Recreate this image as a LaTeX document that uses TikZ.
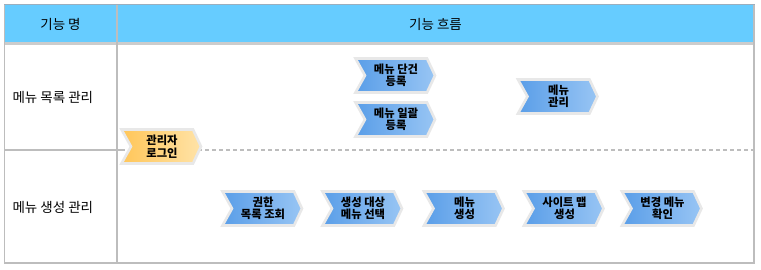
\documentclass[tikz,border=0pt]{standalone}
\usepackage{fontspec}
\setmainfont{Noto Sans CJK KR}
\begin{document}
\begin{tikzpicture}[x=1pt,y=-1pt,
  hdr/.style={font=\fontsize{13.5}{15}\selectfont, text=black},
  rowlbl/.style={font=\fontsize{13.5}{15}\selectfont, text=black, anchor=west},
  lbl/.style={font=\bfseries\fontsize{11.3}{12.5}\selectfont, align=center, text=black, inner sep=0pt},
  bluechev/.style={draw=chevborder, line width=2.6pt, line join=miter, left color=chevbl, right color=chevbr},
  yellowchev/.style={draw=chevborder, line width=2.6pt, line join=miter, left color=chevyl, right color=chevyr},
  frame/.style={draw=tblgray, line width=1.2pt},
]
\definecolor{hdrfill}{HTML}{66CCFF}
\definecolor{tblgray}{HTML}{BDBDBD}
\definecolor{topline}{HTML}{9AAEBE}
\definecolor{hdrline}{HTML}{CCCCCC}
\definecolor{chevborder}{HTML}{E8E8E8}
\definecolor{chevbl}{HTML}{5A9EE8}
\definecolor{chevbr}{HTML}{98C5F4}
\definecolor{chevyl}{HTML}{FFC659}
\definecolor{chevyr}{HTML}{FFE3A8}
\useasboundingbox (0,0) rectangle (761,269);
\fill[white] (0,0) rectangle (761,269);
% header
\fill[hdrfill] (4.5,4.5) rectangle (754,43);
\draw[topline, line width=1.5pt] (4,4.5) -- (754.5,4.5);
\draw[hdrline, line width=3pt] (4,43) -- (754.5,43);
% frame
\draw[frame] (4.5,4.5) -- (4.5,263) -- (754,263) -- (754,4.5);
\draw[frame] (117,4.5) -- (117,263);
\draw[frame] (4.5,150) -- (121,150);
\draw[tblgray, line width=1.2pt, dash pattern=on 4pt off 3pt] (121,150) -- (754,150);
% header texts
\node[hdr] (h1) at (60.5,24) {기능 명};
\node[hdr] (h2) at (435.5,24) {기능 흐름};
\node[rowlbl] (r1) at (9,97) {메뉴 목록 관리};
\node[rowlbl] (r2) at (9,207) {메뉴 생성 관리};
% chevrons
\newcommand\chevron[5]{%
  \path[#5] (#2-39.5,#3-17) -- (#2+32,#3-17) -- (#2+40,#3) -- (#2+32,#3+17) -- (#2-39.5,#3+17) -- (#2-30,#3) -- cycle;
  \node[lbl] (#1) at (#2+1,#3) {#4};}
\chevron{c1}{395}{75.5}{메뉴 단건\\등록}{bluechev}
\chevron{c2}{395}{119.5}{메뉴 일괄\\등록}{bluechev}
\chevron{c3}{557.5}{96.5}{메뉴\\관리}{bluechev}
\chevron{c0}{161}{146.5}{관리자\\로그인}{yellowchev}
\chevron{d1}{262}{208.5}{권한\\목록 조회}{bluechev}
\chevron{d2}{362}{208.5}{생성 대상\\메뉴 선택}{bluechev}
\chevron{d3}{463.5}{208.5}{메뉴\\생성}{bluechev}
\chevron{d4}{563.5}{208.5}{사이트 맵\\생성}{bluechev}
\chevron{d5}{661.5}{208.5}{변경 메뉴\\확인}{bluechev}
\end{tikzpicture}
\end{document}
